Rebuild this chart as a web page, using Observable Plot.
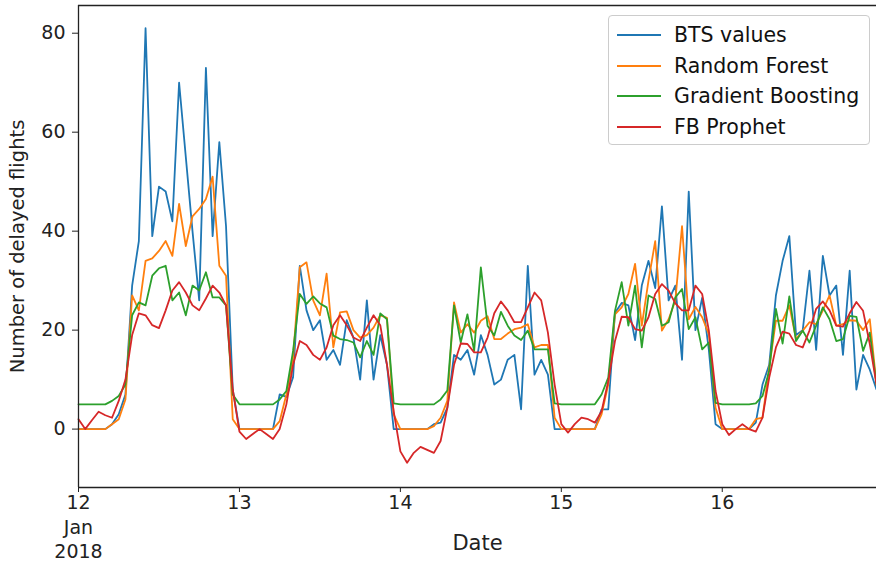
<!DOCTYPE html>
<html>
<head>
<meta charset="utf-8">
<script src="https://cdn.jsdelivr.net/npm/d3@7"></script>
<script src="https://cdn.jsdelivr.net/npm/@observablehq/plot@0.6"></script>
<style>
  html, body { margin: 0; padding: 0; background: #fff; }
  #wrap { position: relative; width: 876px; height: 561px; font-family: "DejaVu Sans", sans-serif; }
  #legend { position: absolute; left: 608px; top: 15px; width: 262px; height: 130px; box-sizing: border-box;
    border: 1px solid #cccccc; border-radius: 4px; background: rgba(255,255,255,0.85); }
  .item { position: absolute; left: 0; height: 26px; width: 100%; }
  .item svg { position: absolute; left: 7px; top: 0; }
  .item span { position: absolute; left: 65px; top: 0; font-size: 20.5px; line-height: 26px; color: #111; white-space: nowrap; }
</style>
</head>
<body>
<div id="wrap"><div id="chart"></div><div id="legend"></div></div>
<script>
// Hourly series, 12 Jan 2018 00:00 to 16 Jan 2018 23:00
const startDate = "2018-01-12T00:00:00Z";
const seriesNames = ["BTS values", "Random Forest", "Gradient Boosting", "FB Prophet"];
const seriesColors = ["#1f77b4", "#ff7f0e", "#2ca02c", "#d62728"];

const btsValues = [
  0,0,0,0,0,1,3,7,29,38,81,39,49,48,42,70,55,40,26,73,39,58,41,8,
  0,0,0,0,0,0,7,6.5,10.5,33,24,20,22,14,16,13,22,18.5,10,26,10,19,13,0,
  0,0,0,0,0,1,1.3,4.3,15,14,16,11,19,15,9,10,14,15,4,33,11,14,11,0,
  0,0,0,0,0,0,4,4,23.5,25.5,25,18,29,34,28.5,45,26,29,14,48,20,26.5,16,1,
  0,0,0,0,0,1.3,9,13,27,34,39,19,20,32,16,35,27,29,15,32,8,15,12,8
];
const randomForest = [
  0,0,0,0,0,1,2,6,27,24,34,34.5,36,38,35,45.5,37,43,44.5,46.5,51,33,31,2,
  0,0,0,0,0,0,1.6,7,14.5,32.7,33.7,26,23,31.4,16.5,23.6,23.8,20,18.5,19,20.5,23,22.5,3,
  0,0,0,0,0,0.6,2.3,5.7,25.6,19.5,21.2,19.5,21.9,22.8,18.2,18.2,19.3,20.2,20.5,21.2,16.5,17,17,2.3,
  0,0,0,0,0,0,3,9,23.2,24.6,27.3,33.4,20.9,30,38,19.9,22.2,26,41,22.2,24.7,22.6,19.2,4.3,
  0,0,0,0,0,2,2.3,12.4,21.9,21.9,25,18.2,19.9,21.6,21.2,24,27,20.9,21.2,22,21.9,20,22.2,9
];
const gradientBoosting = [
  5,5,5,5,5,5.7,6.7,9,23,25.6,25,31,32.5,33,26,27.6,23,29,28,31.7,26.6,26.6,25,7,
  5,5,5,5,5,5,6,7.7,15.8,27.3,25.3,26.8,25.4,24.6,18.9,18.2,18,17.5,14.5,17.8,15,23.4,22.2,5.2,
  5,5,5,5,5,5,6,7.8,25,17.5,23.2,15.8,32.7,20.9,18.9,23.7,20.9,18.9,18,19.9,16.1,16.1,16.1,5.2,
  5,5,5,5,5,5,7,10.4,23.9,29.7,20.9,29,16.5,27,26.3,20.9,21.6,26.6,28.3,20.2,22.6,16.1,17.5,5.3,
  5,5,5,5,5,5.2,6.7,11.8,24.3,17.3,26.8,17.8,19.9,17.5,20.9,24.6,22.2,17.8,18.2,22.9,22.7,15.8,19.5,9
];
const fbProphet = [
  2,0,1.8,3.5,2.8,2.3,5.7,10,19,23.4,23,21,20.4,24,28,29.7,27.6,25,24,26.4,29,27.6,25,8,
  -0.5,-2,-1,0,-1,-2,0,5,13,17.8,17,15,14,16.5,21,23,21,18.5,17.8,20.5,23,21,13,3.6,
  -4.5,-6.8,-4.8,-3.6,-4.2,-4.8,-2.4,4.3,13,17.3,17.2,15.5,15.5,18.5,23.4,25.8,24,21.6,21.6,24.6,27.6,26,19.5,9,
  1,-0.7,1,2.3,2,1.3,3.6,9.7,17.8,22.7,22.6,20.2,19.9,22.6,27.3,29.3,28,25.4,24,24,29,27.3,19.9,7.7,
  1,-1.2,0,1,0,-0.5,2.3,10.4,16.5,19.7,19.3,17,16.5,19.9,24.3,25.8,24,20.9,20.7,23.4,25.7,23.9,17.2,9
];
const xTickDates = ["2018-01-12","2018-01-13","2018-01-14","2018-01-15","2018-01-16"];
const xTickLabels = ["12\nJan\n2018", "13", "14", "15", "16"];
const yTicks = [0, 20, 40, 60, 80];

const t0 = new Date(startDate);
const allSeries = [btsValues, randomForest, gradientBoosting, fbProphet];
const rows = [];
allSeries.forEach((vals, s) => vals.forEach((v, i) => {
  rows.push({series: seriesNames[s], date: new Date(+t0 + i * 3600e3), value: v});
}));
const xEnd = new Date(+t0 + (btsValues.length - 1) * 3600e3);
const xDomain = [t0, xEnd];
const yDomain = [-11.8, 85.6];
const tickDates = xTickDates.map(d => new Date(d + "T00:00:00Z"));
const labelFor = new Map(tickDates.map((d, i) => [+d, xTickLabels[i]]));

const chart = Plot.plot({
  width: 876,
  height: 561,
  marginLeft: 78,
  marginRight: 0,
  marginTop: 5,
  marginBottom: 74,
  style: {fontFamily: "DejaVu Sans, sans-serif", fontSize: "19px", color: "#222", background: "#fff"},
  x: {type: "utc", domain: xDomain},
  y: {domain: yDomain},
  marks: [
    Plot.axisY({ticks: yTicks, tickSize: 6, tickPadding: 7, label: null, fontSize: 19, tickFormat: d => String(d)}),
    Plot.axisX({ticks: tickDates, tickSize: 5, tickPadding: -1, label: null, fontSize: 19, lineHeight: 1.3,
      tickFormat: d => labelFor.get(+d) ?? ""}),
    ...seriesNames.map((name, s) => Plot.line(rows.filter(r => r.series === name), {
      x: "date", y: "value", stroke: seriesColors[s], strokeWidth: 1.8
    })),
    Plot.ruleY([yDomain[0]], {stroke: "#222", strokeWidth: 1.3}),
    Plot.ruleY([yDomain[1]], {stroke: "#222", strokeWidth: 1.3}),
    Plot.ruleX([xDomain[0]], {stroke: "#222", strokeWidth: 1.3}),
    Plot.text(["Date"], {frameAnchor: "bottom", dy: 62, fontSize: 21, fill: "#222"}),
    Plot.text(["Number of delayed flights"], {frameAnchor: "left", textAnchor: "middle", dx: -61, rotate: -90, fontSize: 19.5, fill: "#222"})
  ]
});
document.getElementById("chart").appendChild(chart);

const legend = document.getElementById("legend");
seriesNames.forEach((name, s) => {
  const item = document.createElement("div");
  item.className = "item";
  item.style.top = (6 + s * 30.5) + "px";
  item.innerHTML = `<svg width="46" height="26"><line x1="1" x2="45" y1="13" y2="13" stroke="${seriesColors[s]}" stroke-width="1.8"/></svg><span>${name}</span>`;
  legend.appendChild(item);
});
</script>
</body>
</html>
